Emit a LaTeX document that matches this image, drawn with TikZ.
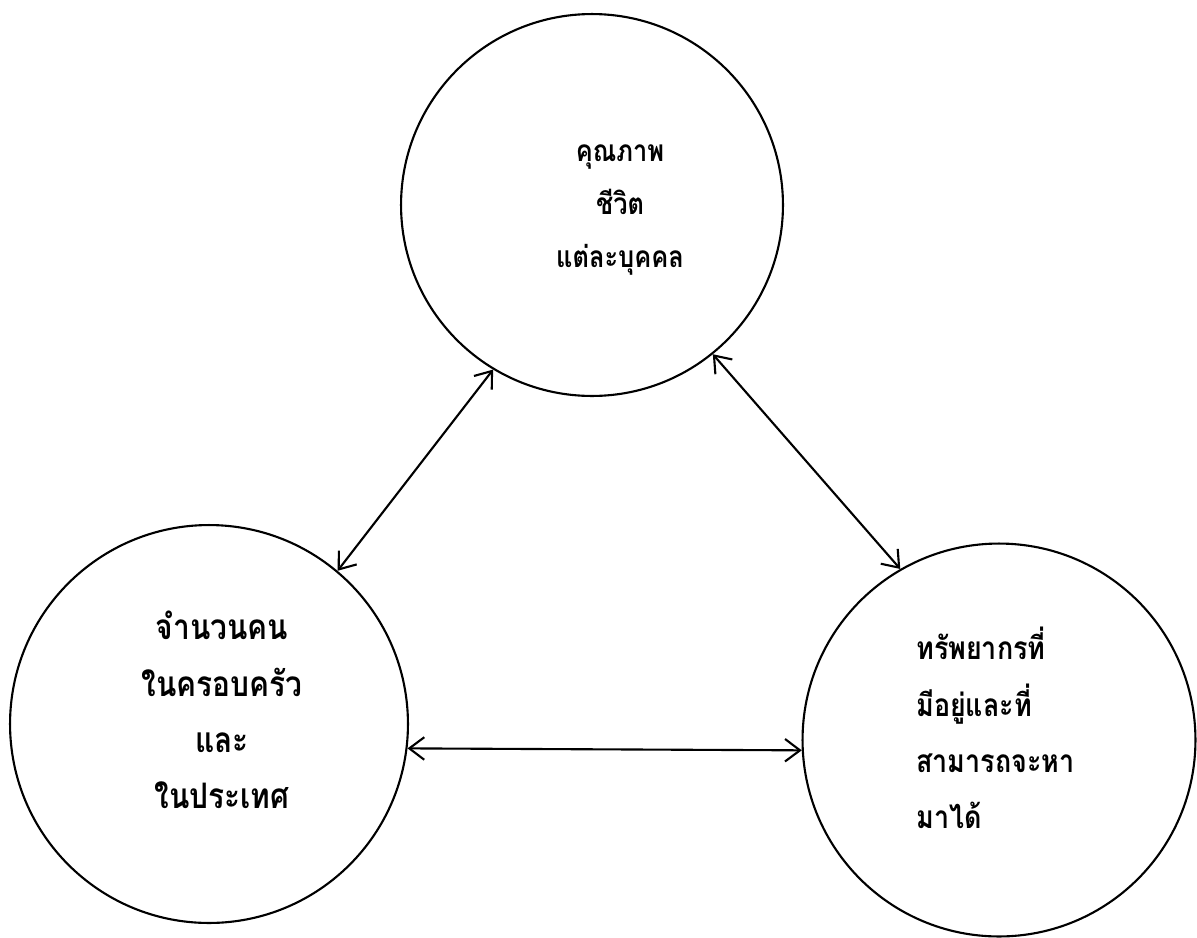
\documentclass[tikz,border=0pt]{standalone}
\usepackage{fontspec}
\newfontfamily\thaifont[Script=Thai,FakeStretch=0.85]{Loma}
\usetikzlibrary{arrows.meta}
\tikzset{
  blob/.style={draw,circle,line width=1.2pt,inner sep=0pt},
  txt/.style={font=\thaifont\bfseries\fontsize{20}{32}\selectfont,align=center,inner sep=0pt},
  link/.style={line width=1.2pt,{Straight Barb[length=3mm,width=4.5mm]}-{Straight Barb[length=3mm,width=4.5mm]}}
}
\begin{document}
\begin{tikzpicture}[x=0.02cm,y=-0.02cm]
\useasboundingbox (0,0) rectangle (1197,937);
% the three circles
\node[blob,minimum size=7.64cm] (life) at (592,205) {};
\node[blob,minimum size=7.96cm] (family) at (209,724) {};
\node[blob,minimum size=7.86cm] (resource) at (999,740) {};
% their texts
\node[txt,font=\thaifont\bfseries\fontsize{17}{30}\selectfont] (lifetxt) at (620,210) {คุณภาพ\\ชีวิต\\แต่ละบุคคล};
\node[txt] (familytxt) at (222,710) {จำนวนคน\\ในครอบครัว\\และ\\ในประเทศ};
\node[txt,font=\thaifont\bfseries\fontsize{18}{32}\selectfont,align=left,anchor=west] (resourcetxt) at (916,728) {ทรัพยากรที่\\มีอยู่และที่\\สามารถจะหา\\มาได้};
% links
\draw[link] (life.239.5) -- (family.50.3);
\draw[link] (life.309.4) -- (resource.120.7);
\draw[link] (family.-7) -- (resource.183.8);
\end{tikzpicture}
\end{document}
